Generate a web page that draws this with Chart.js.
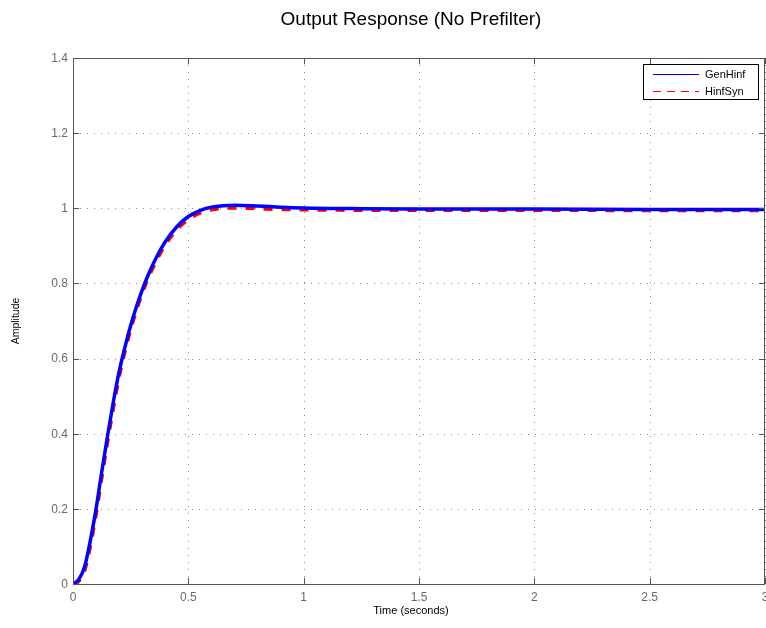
<!DOCTYPE html>
<html>
<head>
<meta charset="utf-8">
<title>Output Response (No Prefilter)</title>
<script src="https://cdn.jsdelivr.net/npm/chart.js@4.4.0/dist/chart.umd.min.js"></script>
<style>
  html, body { margin: 0; padding: 0; background: #fff; }
  canvas { display: block; }
</style>
</head>
<body>
<canvas id="grafico" width="766" height="628"></canvas>
<script>
// step response samples (time in seconds)
const tempo = [0, 0.025, 0.05, 0.075, 0.1, 0.125, 0.15, 0.175, 0.2, 0.225, 0.25, 0.275, 0.3, 0.325, 0.35, 0.375, 0.4, 0.45, 0.5, 0.55, 0.6, 0.65, 0.7, 0.8, 0.9, 1.0, 1.25, 1.5, 2, 2.5, 3];
const genHinf = [0, 0.012, 0.045, 0.115, 0.2, 0.3, 0.395, 0.485, 0.565, 0.63, 0.688, 0.738, 0.782, 0.821, 0.855, 0.885, 0.911, 0.951, 0.978, 0.994, 1.003, 1.007, 1.008, 1.006, 1.003, 1.001, 0.999, 0.998, 0.998, 0.997, 0.997];
const hinfSyn = [0, 0.007, 0.035, 0.1, 0.185, 0.283, 0.378, 0.468, 0.55, 0.618, 0.677, 0.728, 0.773, 0.812, 0.846, 0.876, 0.902, 0.943, 0.97, 0.987, 0.996, 1.0, 1.001, 0.999, 0.997, 0.996, 0.995, 0.995, 0.995, 0.994, 0.994];

const xTicks = [0, 0.5, 1, 1.5, 2, 2.5, 3];
const xTickLabels = ["0", "0.5", "1", "1.5", "2", "2.5", "3"];
const yTicks = [0, 0.2, 0.4, 0.6, 0.8, 1, 1.2, 1.4];
const yTickLabels = ["0", "0.2", "0.4", "0.6", "0.8", "1", "1.2", "1.4"];

const fonte = '"Liberation Sans", Arial, Helvetica, sans-serif';

const eixos = {
  id: "eixos",
  beforeDatasetsDraw(chart) {
    const { ctx, chartArea: a, scales: { x, y } } = chart;
    ctx.save();
    ctx.strokeStyle = "#8c8c8c";
    ctx.lineWidth = 1;
    ctx.setLineDash([1, 6]);
    xTicks.forEach(v => {
      const px = Math.round(x.getPixelForValue(v)) + 0.5;
      ctx.beginPath(); ctx.moveTo(px, a.bottom); ctx.lineTo(px, a.top); ctx.stroke();
    });
    yTicks.forEach(v => {
      const py = Math.round(y.getPixelForValue(v)) + 0.5;
      ctx.beginPath(); ctx.moveTo(a.left, py); ctx.lineTo(a.right, py); ctx.stroke();
    });
    ctx.restore();
  },
  afterDatasetsDraw(chart) {
    const { ctx, chartArea: a, scales: { x, y } } = chart;
    ctx.save();
    // caixa e marcas
    ctx.strokeStyle = "#555";
    ctx.lineWidth = 1;
    ctx.strokeRect(a.left + 0.5, a.top + 0.5, a.right - a.left - 1, a.bottom - a.top);
    ctx.beginPath();
    xTicks.forEach(v => {
      const px = Math.round(x.getPixelForValue(v)) + 0.5;
      ctx.moveTo(px, a.bottom); ctx.lineTo(px, a.bottom - 6);
      ctx.moveTo(px, a.top); ctx.lineTo(px, a.top + 6);
    });
    yTicks.forEach(v => {
      const py = Math.round(y.getPixelForValue(v)) + 0.5;
      ctx.moveTo(a.left, py); ctx.lineTo(a.left + 6, py);
      ctx.moveTo(a.right, py); ctx.lineTo(a.right - 6, py);
    });
    ctx.stroke();

    // rotulos
    ctx.fillStyle = "#6a6a6a";
    ctx.font = "12px " + fonte;
    ctx.textAlign = "center";
    ctx.textBaseline = "alphabetic";
    xTicks.forEach((v, i) => ctx.fillText(xTickLabels[i], x.getPixelForValue(v), a.bottom + 17));
    ctx.textAlign = "right";
    ctx.textBaseline = "middle";
    yTicks.forEach((v, i) => ctx.fillText(yTickLabels[i], a.left - 5, y.getPixelForValue(v) + 0.5));

    ctx.fillStyle = "#000";
    ctx.textAlign = "center";
    ctx.font = "11px " + fonte;
    ctx.fillText("Time (seconds)", 411, a.bottom + 27);
    ctx.save();
    ctx.translate(16, 321);
    ctx.rotate(-Math.PI / 2);
    ctx.font = "10.5px " + fonte;
    ctx.fillText("Amplitude", 0, 0);
    ctx.restore();

    ctx.font = "19px " + fonte;
    ctx.textBaseline = "alphabetic";
    ctx.fillText("Output Response (No Prefilter)", 411, 25);

    // legenda
    const lx = 643, ly = 64, lw = 115, lh = 35;
    const cores = ["#0000ff", "#ff0000"];
    ctx.fillStyle = "#fff";
    ctx.fillRect(lx, ly, lw, lh);
    ctx.strokeStyle = "#000";
    ctx.strokeRect(lx + 0.5, ly + 0.5, lw, lh);
    ctx.font = "11px " + fonte;
    ctx.textAlign = "left";
    ctx.textBaseline = "middle";
    chart.data.datasets.forEach((ds, i) => {
      const yy = ly + 10 + i * 17;
      ctx.fillStyle = cores[i];
      if (i === 1) {
        for (let sx = lx + 10; sx < lx + 56; sx += 14) {
          ctx.fillRect(sx, yy, Math.min(8, lx + 56 - sx), 1);
        }
      } else {
        ctx.fillRect(lx + 10, yy, 46, 1);
      }
      ctx.fillStyle = "#000";
      ctx.fillText(ds.label, lx + 62, yy + 1);
    });
    ctx.restore();
  }
};

new Chart(document.getElementById("grafico"), {
  type: "line",
  data: {
    datasets: [
      {
        label: "GenHinf",
        data: tempo.map((t, i) => ({ x: t, y: genHinf[i] })),
        borderColor: "#0000ff",
        borderWidth: 3.5,
        pointRadius: 0,
        cubicInterpolationMode: "monotone"
      },
      {
        label: "HinfSyn",
        data: tempo.map((t, i) => ({ x: t, y: hinfSyn[i] })),
        borderColor: "#ff0000",
        borderWidth: 3.5,
        borderDash: [9, 9],
        pointRadius: 0,
        cubicInterpolationMode: "monotone"
      }
    ]
  },
  options: {
    responsive: false,
    animation: false,
    layout: { padding: { left: 73, top: 58, right: 1, bottom: 44 } },
    plugins: { legend: { display: false }, tooltip: { enabled: false } },
    scales: {
      x: { type: "linear", min: 0, max: 3, display: false },
      y: { type: "linear", min: 0, max: 1.4, display: false }
    }
  },
  plugins: [eixos]
});
</script>
</body>
</html>
